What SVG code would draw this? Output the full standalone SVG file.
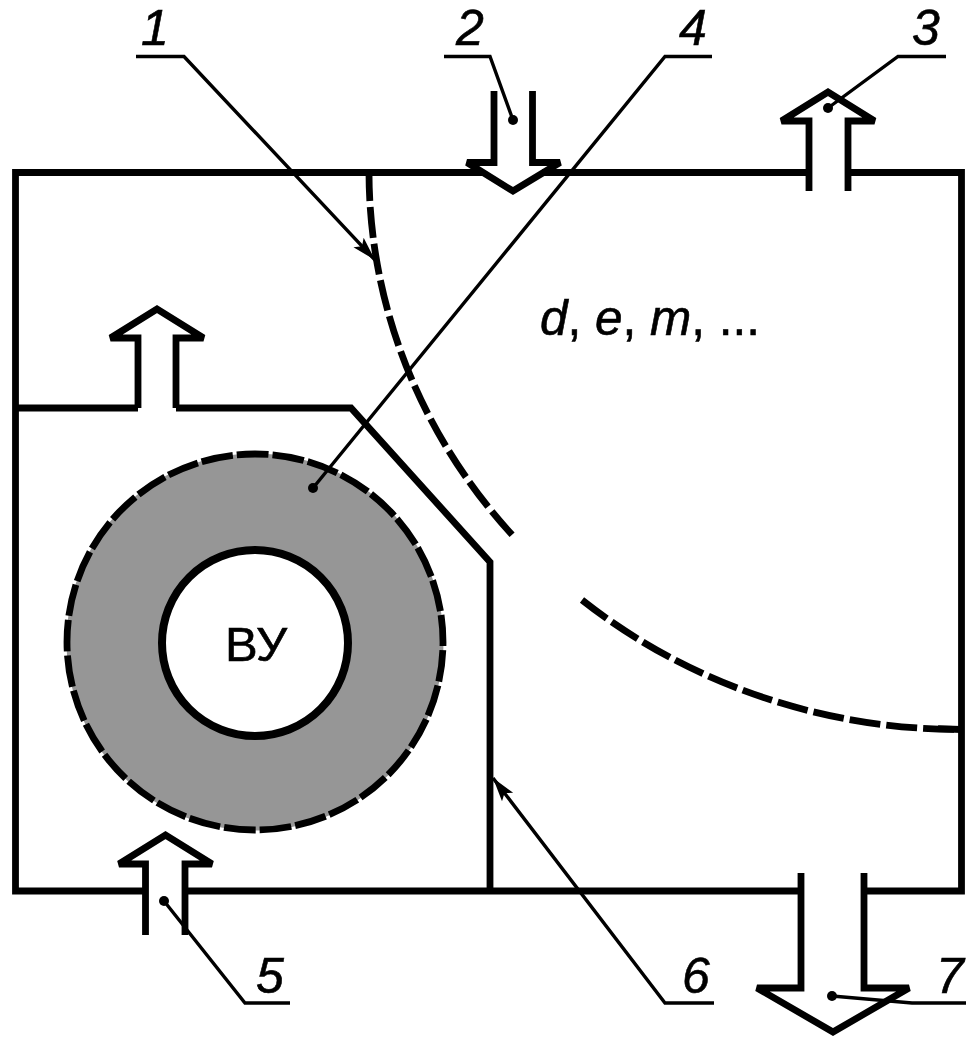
<svg xmlns="http://www.w3.org/2000/svg" width="977" height="1043" viewBox="0 0 977 1043">
<defs>
<marker id="ah" markerUnits="userSpaceOnUse" markerWidth="26" markerHeight="16" refX="24" refY="8" orient="auto"><path d="M0,1 L24,8 L0,15 L5,8 Z" fill="#000"/></marker>
</defs>
<style>
.w{fill:none;stroke:#000;stroke-width:6.8;stroke-linejoin:miter;stroke-miterlimit:2}
.d{fill:none;stroke:#000;stroke-width:6.8;stroke-dasharray:31 6}
.l{fill:none;stroke:#000;stroke-width:3.4}
.t{font-family:"Liberation Sans",Arial,sans-serif;font-size:50px;fill:#000;stroke:#000;stroke-width:.6}
.n{font-style:italic}
</style>
<rect width="977" height="1043" fill="#fff"/>
<g id="chamber">
<path class="w" d="M484,172.500 H15.500 V891 H145 M185,891 H801 M864,891 H961.500 V172.500 H848 M809,172.500 H542"/>
<path class="w" d="M15.500,408 H138 M176,408 H351 L490,562 V891"/>
</g>
<g id="membrane">
<path class="d" stroke-dashoffset="3" d="M369,173 A591,557 0 0 0 515,538"/>
<path class="d" d="M582,600 A591,557 0 0 0 961,729.500"/>
<path class="w" d="M938,728.700 L961,729.500"/>
</g>
<g id="sorbent">
<circle cx="255" cy="642" r="188.500" fill="#969696"/>
<circle cx="255" cy="642" r="188" class="d" stroke-dashoffset="27.700" style="stroke-dasharray:31.800 4"/>
<circle cx="255" cy="643" r="93" fill="#fff" stroke="#000" stroke-width="8"/>
<text class="t" x="256" y="661" text-anchor="middle" style="font-size:49px">ВУ</text>
</g>
<g id="arrow-2"><path class="w" d="M494,91 V162.500 H467 L513,191 L560,162.500 H532.500 V91"/></g>
<g id="arrow-3"><path class="w" d="M809,191 V121 H781.500 L828,92 L874.500,121 H848 V191"/></g>
<g id="arrow-top-left"><path class="w" d="M138,408 V338 H110.500 L157,309 L203.500,338 H176 V408"/></g>
<g id="arrow-5"><path class="w" d="M145.500,935 V864 H119 L165.500,835 L212,864 H185 V935"/></g>
<g id="arrow-7"><path class="w" d="M801,873 V988 H757 L833,1032 L909,988 H864 V873"/></g>
<g id="connectors">
<path class="l" d="M136,56.500 H184 L375,260" marker-end="url(#ah)"/>
<path class="l" d="M444,56.500 H490 L513,120"/>
<path class="l" d="M946,56.500 H898 L828,108"/>
<path class="l" d="M712,56.500 H665 L313,488"/>
<path class="l" d="M290,1003 H245 L164,901"/>
<path class="l" d="M714,1003 H665 L493,778" marker-end="url(#ah)"/>
<path class="l" d="M966,1003 H912 L832,996"/>
<g fill="#000">
<circle cx="513" cy="120" r="5"/><circle cx="828" cy="108" r="5"/><circle cx="313" cy="488" r="5"/><circle cx="164" cy="901" r="5"/><circle cx="832" cy="996" r="5"/>
</g>
</g>
<g id="labels">
<text class="t n" x="155" y="45" text-anchor="middle">1</text>
<text class="t n" x="470" y="45" text-anchor="middle">2</text>
<text class="t n" x="926" y="45" text-anchor="middle">3</text>
<text class="t n" x="693" y="45" text-anchor="middle">4</text>
<text class="t n" x="270" y="993" text-anchor="middle">5</text>
<text class="t n" x="696" y="993" text-anchor="middle">6</text>
<text class="t n" x="950" y="993" text-anchor="middle">7</text>
<text class="t" x="540" y="335" style="font-size:49.500px"><tspan class="n">d</tspan>, <tspan class="n">e</tspan>, <tspan class="n">m</tspan>, ...</text>
</g>
</svg>
